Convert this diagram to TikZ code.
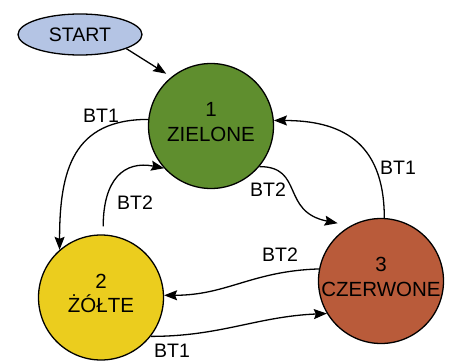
\documentclass[tikz,border=0pt]{standalone}
\usepackage{fontspec}
\setmainfont{Liberation Sans}
\usepackage{tikz}
\usetikzlibrary{shapes.geometric, arrows.meta}

\definecolor{startblue}{HTML}{B4C4E4}
\definecolor{stategreen}{HTML}{5F8E2E}
\definecolor{stateyellow}{HTML}{EBCD1E}
\definecolor{statered}{HTML}{B95B3A}

\begin{document}
\begin{tikzpicture}[
    x=1pt, y=-1pt,
    state/.style={
        circle, draw=black, line width=1.3pt, minimum size=125pt,
        inner sep=-2pt, text depth=8pt, align=center,
        font=\fontsize{20.5}{24.6}\selectfont
    },
    startbox/.style={
        ellipse, draw=black, line width=1.3pt, fill=startblue,
        minimum width=124pt, minimum height=41pt,
        font=\fontsize{19.5}{23}\selectfont
    },
    lbl/.style={
        inner sep=0pt, font=\fontsize{19.5}{23}\selectfont
    },
    line/.style={
        draw, line width=1.3pt, -{Stealth[length=13pt, width=10pt, inset=2pt]}
    }
]
\useasboundingbox (0,0) rectangle (452,361);

% Start
\node[startbox] (start) at (80,34.5) {START};

% States
\node[state, fill=stategreen] (zielone) at (211,126) {1\\ZIELONE};
\node[state, fill=stateyellow] (zolte) at (101,297.5) {2\\ŻÓŁTE};
\node[state, fill=statered] (czerwone) at (381,281) {3\\CZERWONE};

% Transitions
\draw[line, shorten >=6pt] (start.-17) -- (zielone.129);
\draw[line] (zielone.174) .. controls +(-75,0) and +(0,-80) .. (zolte.131);
\draw[line, shorten <=8pt] (zolte.88) .. controls +(0,-55) and +(-40,-8) .. (zielone.222);
\draw[line, shorten >=13pt] (zielone.-40) .. controls +(45,0) and +(-70,-14) .. (czerwone.119);
\draw[line] (czerwone.169) .. controls +(-67,2) and +(63,0) .. (zolte.2);
\draw[line] (zolte.-38) .. controls +(70,0) and +(-70,3) .. (czerwone.211);
\draw[line] (czerwone.87) .. controls +(0,-78) and +(65,0) .. (zielone.5);

% Labels
\node[lbl] (l12) at (101,116) {BT1};
\node[lbl] (l21) at (135,203) {BT2};
\node[lbl] (l13) at (268,190) {BT2};
\node[lbl] (l32) at (280,255) {BT2};
\node[lbl] (l23) at (172,350.5) {BT1};
\node[lbl] (l31) at (398,168) {BT1};

\end{tikzpicture}
\end{document}
